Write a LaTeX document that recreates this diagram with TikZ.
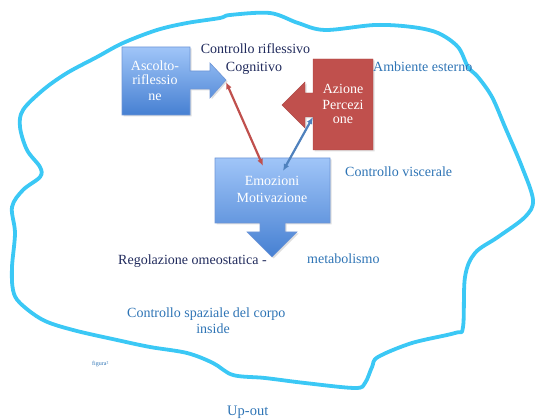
\documentclass[tikz,border=0pt]{standalone}
\usepackage{fontspec}
\setmainfont{Liberation Serif}
\usetikzlibrary{arrows.meta,shadows}
\definecolor{blobc}{RGB}{59,200,245}
\definecolor{navy}{RGB}{32,42,92}
\definecolor{bluetxt}{RGB}{46,116,181}
\definecolor{boxtop}{RGB}{160,197,248}
\definecolor{boxbot}{RGB}{70,128,210}
\definecolor{boxedge}{RGB}{110,150,215}
\definecolor{redc}{RGB}{192,80,77}
\definecolor{bluearr}{RGB}{79,129,189}
\tikzset{
  txt/.style={inner sep=0pt,font=\fontsize{14}{16}\selectfont},
  navytxt/.style={txt,text=navy},
  bluet/.style={txt,text=bluetxt},
  intxt/.style={txt,text=white},
  bluebox/.style={top color=boxtop,bottom color=boxbot,draw=boxedge,line width=0.6pt,
    drop shadow={opacity=0.25,shadow xshift=1.5pt,shadow yshift=-1.5pt}},
  redbox/.style={fill=redc,draw=redc!90!black,line width=0.4pt,
    drop shadow={opacity=0.25,shadow xshift=1.5pt,shadow yshift=-1.5pt}},
  redarr/.style={draw=redc,line width=2.2pt,{Latex[length=7pt,width=6pt]}-{Latex[length=7pt,width=6pt]}},
  bluearrow/.style={draw=bluearr,line width=2.2pt,{Latex[length=7pt,width=6pt]}-{Latex[length=7pt,width=6pt]}},
}
\begin{document}
\begin{tikzpicture}[x=1pt,y=-1pt]
\useasboundingbox (0,0) rectangle (535,419);
% outer blob
\draw[blobc,line width=3.8pt,line join=round] plot[smooth cycle,tension=0.55] coordinates {
(270,13) (298,23) (325,30) (375,25) (412,27) (438,33) (458,47) (468,67) (478,77) (492,97)
(505,127) (522,167) (533,200) (525,217) (498,237) (475,253) (465,277) (463,327) (455,333)
(412,343) (378,357) (372,367) (365,383) (355,388) (305,383) (265,378) (233,375) (213,363)
(187,353) (150,347) (117,340) (73,330) (43,320) (20,303) (13,290) (12,267) (15,233) (12,207)
(23,190) (40,177) (40,167) (27,150) (20,127) (23,110) (43,90) (67,73) (97,57) (123,43)
(157,30) (187,23) (220,18) (230,15)};
% Ascolto callout (right arrow)
\path[bluebox] (122,47) -- (190,47) -- (190,71) -- (210,71) -- (210,63) -- (226,80)
  -- (210,98) -- (210,89) -- (190,89) -- (190,115) -- (122,115) -- cycle;
\coordinate (asctip) at (226,82);
\node[intxt,anchor=base] (asc1) at (155,71) {Ascolto-};
\node[intxt,anchor=base] (asc2) at (155,85) {riflessio};
\node[intxt,anchor=base] (asc3) at (155,101) {ne};
% Azione callout (left arrow)
\path[redbox] (313,59) -- (373,59) -- (373,150) -- (313,150) -- (313,117) -- (305,117)
  -- (305,128) -- (282,105) -- (305,82) -- (305,93) -- (313,93) -- cycle;
\coordinate (azin) at (313,117);
\node[intxt,anchor=base] (az1) at (343,94) {Azione};
\node[intxt,anchor=base] (az2) at (343,110) {Percezi};
\node[intxt,anchor=base] (az3) at (343,124) {one};
% Emozioni callout (down arrow)
\path[bluebox] (215,158) -- (330,158) -- (330,223) -- (285,223) -- (285,232) -- (297,232)
  -- (272,257) -- (247,232) -- (260,232) -- (260,223) -- (215,223) -- cycle;
\coordinate (emored) at (263,166);
\coordinate (emoblue) at (283,171);
\node[intxt,anchor=base] (emo1) at (272,186) {Emozioni};
\node[intxt,anchor=base] (emo2) at (272,203) {Motivazione};
% connectors
\draw[redarr] (asctip) -- (emored);
\draw[bluearrow] (azin) -- (emoblue);
% labels
\node[navytxt,anchor=base] (cr) at (255.5,54) {Controllo riflessivo};
\node[navytxt,anchor=base] (cog) at (254,72) {Cognitivo};
\node[bluet,anchor=base west] (amb) at (373,72) {Ambiente esterno};
\node[bluet,anchor=base west] (visc) at (345,177) {Controllo viscerale};
\node[navytxt,anchor=base west] (reg) at (118,265) {Regolazione omeostatica -};
\node[bluet,anchor=base west] (met) at (307,264) {metabolismo};
\node[bluet,anchor=base west] (spaz) at (127,317) {Controllo spaziale del corpo};
\node[bluet,anchor=base] (ins) at (213,334) {inside};
\node[bluet,anchor=base west,font=\fontsize{6}{7}\selectfont] (fig) at (92,365) {figura²};
\node[bluet,anchor=base west,font=\fontsize{14.5}{17}\selectfont] (up) at (227,415) {Up-out};
\end{tikzpicture}
\end{document}
